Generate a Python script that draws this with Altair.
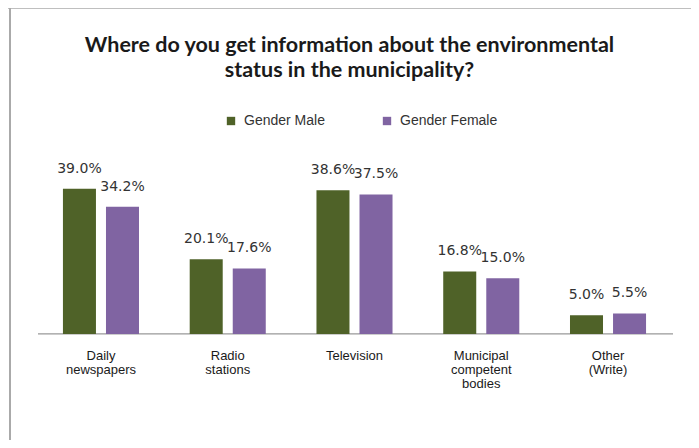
import altair as alt
import pandas as pd

categories = ["Daily newspapers", "Radio stations", "Television",
              "Municipal competent bodies", "Other (Write)"]
cat_labels = ["Daily\nnewspapers", "Radio\nstations", "Television",
              "Municipal\ncompetent\nbodies", "Other\n(Write)"]
series = ["Gender Male", "Gender Female"]
male = [39.0, 20.1, 38.6, 16.8, 5.0]
female = [34.2, 17.6, 37.5, 15.0, 5.5]
colors = ["#4F6228", "#8064A2"]

rows = []
for i, c in enumerate(categories):
    rows.append({"cat": c, "series": series[0], "value": male[i], "label": f"{male[i]:.1f}%"})
    rows.append({"cat": c, "series": series[1], "value": female[i], "label": f"{female[i]:.1f}%"})
df = pd.DataFrame(rows)
cat_df = pd.DataFrame({"cat": categories, "text": cat_labels, "zero": [0] * len(categories)})

W, H = 683, 432
Y0, Y1 = -28.5, 87.6
frame_df = pd.DataFrame({"bot": [Y0], "top": [Y1], "zero": [0]})

xenc = alt.X("cat:N", sort=categories, axis=None,
             scale=alt.Scale(paddingInner=0.4, paddingOuter=0.394, align=0.55))
xoff = alt.XOffset("series:N", sort=series,
                   scale=alt.Scale(paddingInner=0.233, paddingOuter=0))
yscale = alt.Scale(domain=[Y0, Y1], nice=False, zero=False)
yenc = alt.Y("value:Q", axis=None, scale=yscale)

bars = alt.Chart(df).mark_bar().encode(
    x=xenc, xOffset=xoff, y=yenc,
    color=alt.Color("series:N", sort=series,
                    scale=alt.Scale(domain=series, range=colors),
                    legend=alt.Legend(orient="none", legendX=216, legendY=106,
                                      direction="horizontal", title=None,
                                      symbolType="square", symbolSize=70,
                                      labelFontSize=14, labelFont="Liberation Sans",
                                      labelColor="#333333", columnPadding=55,
                                      labelOffset=6))
)

values = alt.Chart(df).mark_text(dy=-16, baseline="alphabetic", font="DejaVu Sans",
                                 fontSize=14, color="#333333").encode(
    x=xenc, xOffset=xoff, y=yenc, text="label:N"
)

cat_text = alt.Chart(cat_df).mark_text(baseline="top", dy=16, lineBreak="\n",
                                       fontSize=13, font="Liberation Sans",
                                       lineHeight=14, color="#1a1a1a").encode(
    x=alt.X("cat:N", sort=categories), y=alt.Y("zero:Q", scale=yscale, axis=None),
    text="text:N"
)

baseline = alt.Chart(frame_df).mark_rule(color="#999999", strokeWidth=1.3).encode(
    x=alt.value(30), x2=alt.value(665), y=alt.Y("zero:Q", scale=yscale, axis=None)
)
top_border = alt.Chart(frame_df).mark_rule(color="#aaaaaa", strokeWidth=1.5).encode(
    x=alt.value(0), x2=alt.value(W), y=alt.Y("top:Q", scale=yscale, axis=None)
)
left_border = alt.Chart(frame_df).mark_rule(color="#aaaaaa", strokeWidth=2).encode(
    x=alt.value(2), y=alt.Y("bot:Q", scale=yscale, axis=None), y2="top:Q"
)

chart = alt.layer(top_border, left_border, baseline, bars, values, cat_text).properties(
    width=W, height=H,
    autosize=alt.AutoSizeParams(type="none"),
    padding=0,
    title=alt.TitleParams(
        ["Where do you get information  about the environmental",
         "status in the municipality?"],
        font="Lato", fontSize=21.5, fontWeight="bold", color="#1a1a1a",
        anchor="middle", offset=-74, lineHeight=25),
).configure_view(stroke=None)

chart.save("out.html", embed_options={"renderer": "svg", "actions": False})
